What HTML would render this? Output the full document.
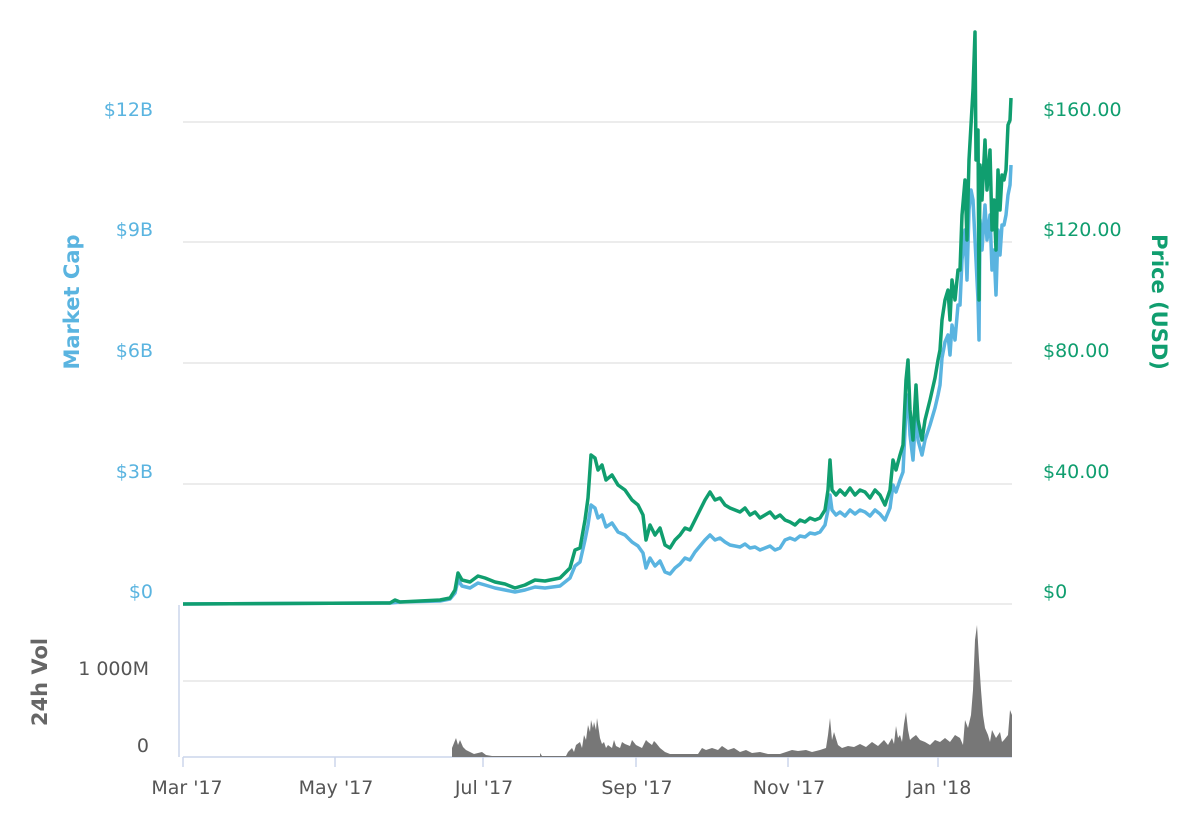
<!DOCTYPE html>
<html><head><style>
body{margin:0;background:#fff;}
svg text{font-family:"DejaVu Sans","Liberation Sans",sans-serif;}
</style></head><body>
<svg width="1200" height="826" viewBox="0 0 1200 826" xmlns="http://www.w3.org/2000/svg">
<g stroke="#e6e6e6" stroke-width="1.5">
<line x1="183" y1="122" x2="1012" y2="122"/>
<line x1="183" y1="242" x2="1012" y2="242"/>
<line x1="183" y1="363" x2="1012" y2="363"/>
<line x1="183" y1="484" x2="1012" y2="484"/>
<line x1="183" y1="604" x2="1012" y2="604"/>
<line x1="183" y1="681" x2="1012" y2="681"/>
</g>
<line x1="179" y1="605" x2="179" y2="757" stroke="#ccd6eb" stroke-width="1.5"/>
<line x1="183" y1="757" x2="1012" y2="757" stroke="#ccd6eb" stroke-width="1.5"/>
<g stroke="#ccd6eb" stroke-width="1.5">
<line x1="183" y1="757" x2="183" y2="767"/><line x1="335" y1="757" x2="335" y2="767"/>
<line x1="483" y1="757" x2="483" y2="767"/><line x1="636" y1="757" x2="636" y2="767"/>
<line x1="788" y1="757" x2="788" y2="767"/><line x1="938" y1="757" x2="938" y2="767"/>
</g>
<g font-size="19" fill="#555" text-anchor="middle">
<text x="187" y="794">Mar '17</text><text x="336" y="794">May '17</text>
<text x="484" y="794">Jul '17</text><text x="637" y="794">Sep '17</text>
<text x="789" y="794">Nov '17</text><text x="939" y="794">Jan '18</text>
</g>
<g font-size="19" fill="#5ab4e0" text-anchor="end">
<text x="153" y="116">$12B</text><text x="153" y="236">$9B</text>
<text x="153" y="357">$6B</text><text x="153" y="478">$3B</text><text x="153" y="598">$0</text>
</g>
<g font-size="19" fill="#555" text-anchor="end">
<text x="149" y="675">1 000M</text><text x="149" y="752">0</text>
</g>
<g font-size="19" fill="#109e6f">
<text x="1043" y="116">$160.00</text><text x="1043" y="236">$120.00</text>
<text x="1043" y="357">$80.00</text><text x="1043" y="478">$40.00</text><text x="1043" y="598">$0</text>
</g>
<text transform="translate(79,302) rotate(-90)" font-size="21" fill="#5ab4e0" text-anchor="middle" font-weight="bold">Market Cap</text>
<text transform="translate(1152,302) rotate(90)" font-size="21" fill="#109e6f" text-anchor="middle" font-weight="bold">Price (USD)</text>
<text transform="translate(47,682) rotate(-90)" font-size="21" fill="#666" text-anchor="middle" font-weight="bold">24h Vol</text>
<path fill="#777" d="M452,757 L452,748 456,738 458,745 460,740 463,747 466,750 470,752 474,754 478,753 482,752 486,755 492,756 540,756 540,753 542,756 566,756 568,752 572,748 574,752 576,745 580,742 582,748 584,735 586,740 588,725 590,732 591,720 593,728 594,722 596,730 597,718 600,738 602,744 604,742 606,748 608,745 612,748 614,740 616,746 620,748 622,742 625,744 630,746 632,740 636,745 642,748 646,740 648,742 652,745 654,741 656,743 660,748 665,752 670,754 698,754 702,748 706,750 712,748 718,750 722,746 728,750 734,748 740,752 746,750 752,753 760,752 768,754 780,754 786,752 792,750 798,751 806,750 812,752 820,750 826,748 828,735 830,718 832,740 834,732 838,745 842,748 848,746 854,747 860,744 866,747 872,742 878,746 884,740 888,745 892,738 894,744 896,726 898,738 900,735 902,742 904,724 906,712 908,730 910,740 912,738 916,735 920,740 925,742 930,745 935,740 940,742 945,738 950,742 955,735 960,738 963,745 965,720 968,728 971,715 973,690 975,640 977,625 979,660 981,690 983,715 985,728 988,735 990,742 992,730 996,738 1000,732 1002,742 1004,740 1008,735 1010,710 1012,715 L1012,757 Z"/>
<polyline fill="none" stroke="#5ab4e0" stroke-width="3.5" stroke-linejoin="round" points="183,604 390,603 400,602 440,601 450,599 455,593 458,580 462,586 470,588 478,583 485,585 495,588 505,590 515,592 525,590 535,587 545,588 560,586 570,578 575,566 580,562 585,540 588,525 591,505 595,508 598,518 602,515 606,527 612,523 618,532 625,535 632,542 638,546 643,553 646,568 650,558 655,566 660,561 665,572 670,574 675,568 680,564 685,558 690,560 695,552 700,546 705,540 710,535 715,540 720,538 725,542 730,545 735,546 740,547 745,544 750,548 755,547 760,550 765,548 770,546 775,550 780,548 785,540 790,538 795,540 800,536 805,537 810,533 815,534 820,532 825,525 828,510 830,495 832,510 836,515 840,512 845,516 850,510 855,514 860,510 865,512 870,516 875,510 880,514 885,520 890,508 893,485 896,492 900,480 903,472 906,410 908,395 910,435 913,460 916,410 918,440 922,455 925,440 930,425 935,408 938,395 940,385 942,358 945,342 948,335 950,355 952,325 955,340 958,305 960,305 962,260 965,230 967,280 969,210 971,190 973,200 975,240 976,260 978,300 979,340 980,220 982,250 985,205 987,240 990,215 992,270 994,250 996,295 998,230 1000,255 1002,225 1004,225 1006,215 1008,195 1010,185 1011,165"/>
<polyline fill="none" stroke="#109e6f" stroke-width="3.5" stroke-linejoin="round" points="183,604 390,603 395,600 400,602 440,600 450,598 455,590 458,573 462,580 470,582 478,576 485,578 495,582 505,584 515,588 525,585 535,580 545,581 560,578 570,568 575,550 580,548 585,520 588,498 591,455 595,458 598,470 602,465 606,480 612,475 618,485 625,490 632,500 638,505 643,515 646,540 650,525 655,535 660,528 665,545 670,548 675,540 680,535 685,528 690,530 695,520 700,510 705,500 710,492 715,500 720,498 725,505 730,508 735,510 740,512 745,508 750,515 755,512 760,518 765,515 770,512 775,518 780,515 785,520 790,522 795,525 800,520 805,522 810,518 815,520 820,518 825,510 828,490 830,460 832,490 836,495 840,490 845,495 850,488 855,495 860,490 865,492 870,498 875,490 880,495 885,505 890,490 893,460 896,470 900,455 903,445 906,380 908,360 910,410 913,440 916,385 918,420 922,440 925,420 930,400 935,378 938,360 940,350 942,320 945,300 948,290 950,320 952,280 955,300 958,270 960,270 962,215 965,180 967,240 969,160 971,125 973,90 975,32 976,160 978,130 979,300 980,165 982,200 985,140 987,190 990,150 992,230 994,200 996,250 998,170 1000,210 1002,175 1004,180 1006,170 1008,125 1010,120 1011,98"/>
</svg>
</body></html>
